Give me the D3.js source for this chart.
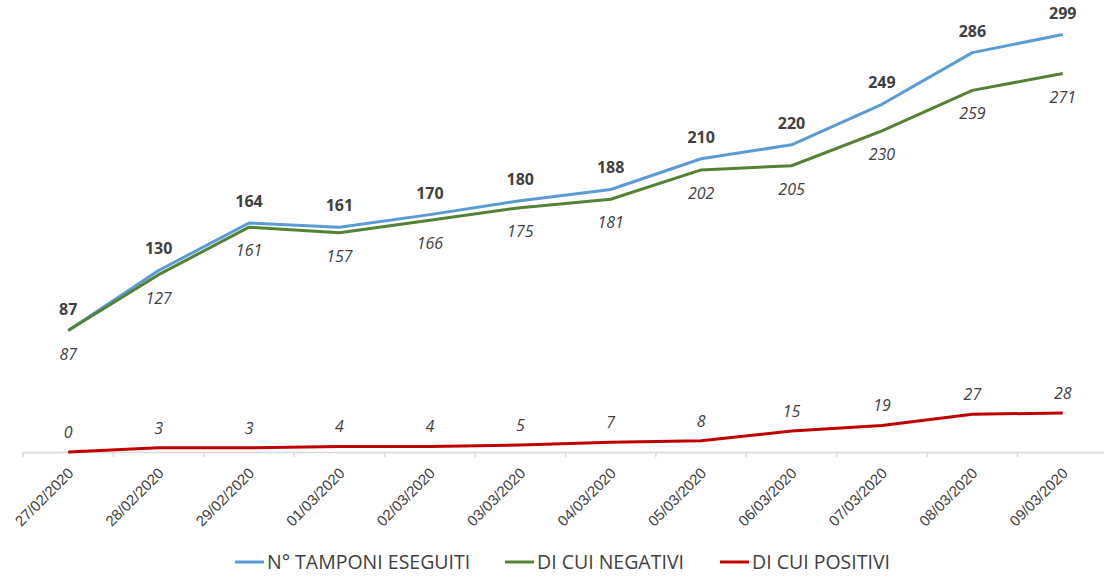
<!DOCTYPE html>
<html>
<head>
<meta charset="utf-8">
<script src="https://cdn.jsdelivr.net/npm/d3@7"></script>
<style>
  body { margin: 0; background: #fff; }
  svg { font-family: "Open Sans", "Liberation Sans", sans-serif; }
</style>
</head>
<body>
<figure id="chart" style="margin:0"></figure>
<script>
const dates = ["27/02/2020", "28/02/2020", "29/02/2020", "01/03/2020", "02/03/2020", "03/03/2020",
  "04/03/2020", "05/03/2020", "06/03/2020", "07/03/2020", "08/03/2020", "09/03/2020"];
const tamponi = [87, 130, 164, 161, 170, 180, 188, 210, 220, 249, 286, 299];
const negativi = [87, 127, 161, 157, 166, 175, 181, 202, 205, 230, 259, 271];
const positivi = [0, 3, 3, 4, 4, 5, 7, 8, 15, 19, 27, 28];
const seriesNames = ["N° TAMPONI ESEGUITI", "DI CUI NEGATIVI", "DI CUI POSITIVI"];

const width = 1104, height = 577;
const colors = ["#5b9bd5", "#548235", "#c00000"];
const textColor = "#404040";

const svg = d3.select("figure#chart")
  .append("svg")
  .attr("width", width)
  .attr("height", height);

const x = d3.scaleBand()
  .domain(dates)
  .range([23, 1108]);
const y = d3.scaleLinear()
  .domain([0, 299])
  .range([452, 34.5]);

// x axis
const xAxis = svg.append("g")
  .attr("transform", `translate(0,${y(0)})`)
  .call(d3.axisBottom(x).tickSize(0).tickSizeOuter(0));
xAxis.select(".domain").attr("stroke", "#d9d9d9").attr("stroke-width", 1.5);
xAxis.selectAll(".tick text")
  .attr("fill", textColor)
  .style("font-size", "15px")
  .style("text-anchor", "end")
  .attr("dy", 0)
  .attr("transform", "translate(4,20) rotate(-45)");
// boundary tick marks between categories
svg.append("g")
  .selectAll("line")
  .data(dates)
  .enter()
  .append("line")
  .attr("x1", d => x(d))
  .attr("x2", d => x(d))
  .attr("y1", y(0))
  .attr("y2", y(0) + 5)
  .attr("stroke", "#d9d9d9")
  .attr("stroke-width", 1.5);

const cx = d => x(d) + x.bandwidth() / 2;
const line = d3.line()
  .x((d, i) => cx(dates[i]))
  .y(d => y(d));

const allSeries = [tamponi, negativi, positivi];
allSeries.forEach((s, k) => {
  svg.append("path")
    .datum(s)
    .attr("fill", "none")
    .attr("stroke", colors[k])
    .attr("stroke-width", 3)
    .attr("stroke-linejoin", "round")
    .attr("d", line);
});

// labels: tamponi bold above, negativi italic below, positivi italic above
svg.append("g").selectAll("text")
  .data(tamponi)
  .enter()
  .append("text")
  .attr("x", (d, i) => cx(dates[i]))
  .attr("y", d => y(d) - 16)
  .attr("text-anchor", "middle")
  .attr("fill", textColor)
  .style("font-size", "16px")
  .style("font-weight", "bold")
  .text(d => d);

svg.append("g").selectAll("text")
  .data(negativi)
  .enter()
  .append("text")
  .attr("x", (d, i) => cx(dates[i]))
  .attr("y", d => y(d) + 29)
  .attr("text-anchor", "middle")
  .attr("fill", textColor)
  .style("font-size", "16px")
  .style("font-style", "italic")
  .text(d => d);

svg.append("g").selectAll("text")
  .data(positivi)
  .enter()
  .append("text")
  .attr("x", (d, i) => cx(dates[i]))
  .attr("y", d => y(d) - 14)
  .attr("text-anchor", "middle")
  .attr("fill", textColor)
  .style("font-size", "16px")
  .style("font-style", "italic")
  .text(d => d);

// legend
const legendX = [235, 505, 720];
const legend = svg.append("g");
seriesNames.forEach((name, k) => {
  legend.append("line")
    .attr("x1", legendX[k])
    .attr("x2", legendX[k] + 29)
    .attr("y1", 562)
    .attr("y2", 562)
    .attr("stroke", colors[k])
    .attr("stroke-width", 3);
  legend.append("text")
    .attr("x", legendX[k] + 32)
    .attr("y", 569)
    .attr("fill", textColor)
    .style("font-size", "19.5px")
    .text(name);
});
</script>
</body>
</html>
